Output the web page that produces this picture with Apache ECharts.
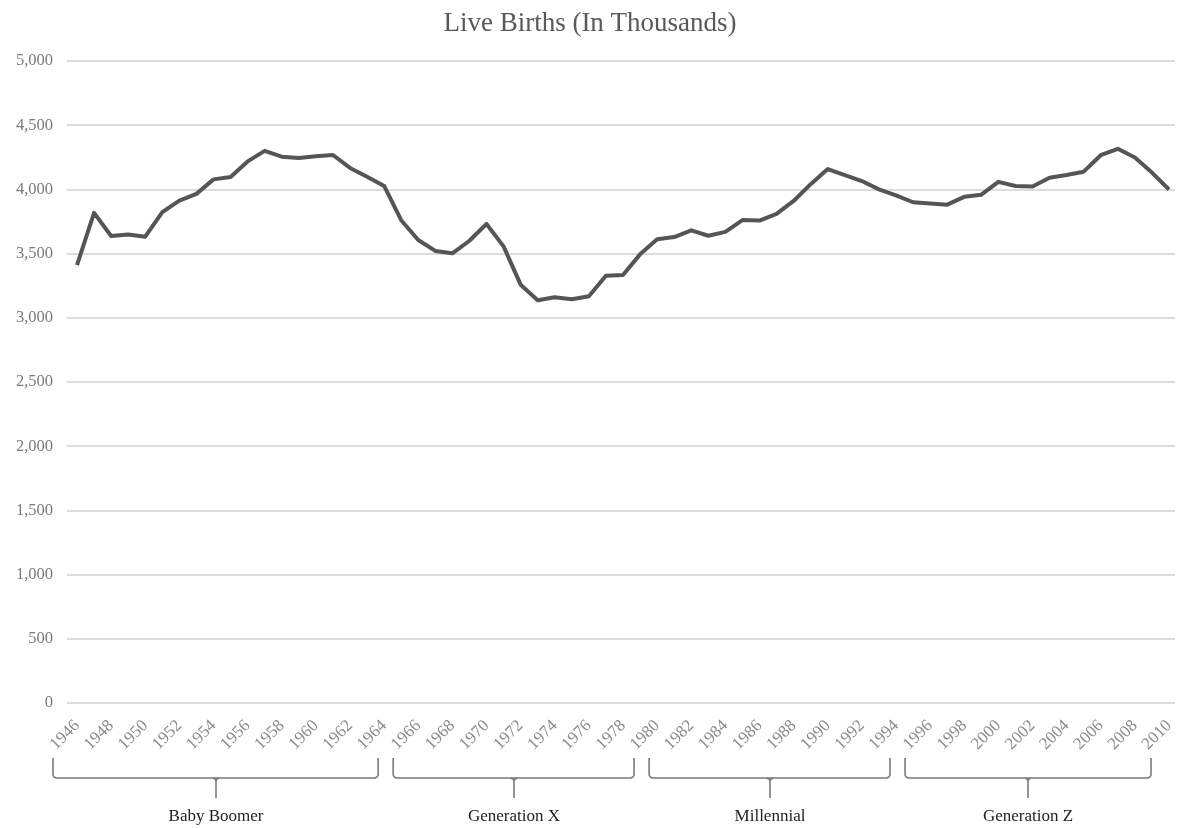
<!DOCTYPE html>
<html>
<head>
<meta charset="utf-8">
<title>Live Births (In Thousands)</title>
<script src="https://cdn.jsdelivr.net/npm/echarts@6/dist/echarts.min.js"></script>
<style>
  html, body { margin: 0; padding: 0; background: #fff; }
  #chart { width: 1180px; height: 828px; }
</style>
</head>
<body>
<div id="chart"></div>
<script>
// US live births by year, in thousands
const years = [];
for (let y = 1946; y <= 2010; y++) years.push(String(y));

const births = [
  3411, 3817, 3637, 3649, 3632, 3823, 3913, 3965, 4078, 4097,
  4218, 4300, 4255, 4245, 4258, 4268, 4167, 4098, 4027, 3760,
  3606, 3521, 3502, 3600, 3731, 3556, 3258, 3137, 3160, 3144,
  3168, 3327, 3333, 3494, 3612, 3629, 3681, 3639, 3669, 3761,
  3757, 3809, 3910, 4041, 4158, 4111, 4065, 4000, 3953, 3900,
  3891, 3881, 3942, 3959, 4059, 4026, 4022, 4090, 4112, 4138,
  4266, 4316, 4248, 4131, 3999
];

const yTicks = [0, 500, 1000, 1500, 2000, 2500, 3000, 3500, 4000, 4500, 5000];

// Generational cohorts shown as brackets under the year axis
const generationNames = ['Baby Boomer', 'Generation X', 'Millennial', 'Generation Z'];
const generationStart = ['1946', '1965', '1980', '1995'];
const generationEnd   = ['1964', '1979', '1994', '2010'];

const SERIF = '"Liberation Serif", "Times New Roman", serif';
const chart = echarts.init(document.getElementById('chart'));

chart.setOption({
  animation: false,
  backgroundColor: '#ffffff',
  title: {
    text: 'Live Births (In Thousands)',
    left: 'center',
    top: 5,
    textStyle: { fontFamily: SERIF, fontSize: 27, fontWeight: 'normal', color: '#595959' }
  },
  grid: [
    // background grid carrying the value gridlines and labels
    { left: 67, right: 5, top: 61, bottom: 125 },
    // plotting grid for the line
    { left: 77, right: 11, top: 61, bottom: 125 }
  ],
  xAxis: [
    { gridIndex: 0, type: 'category', data: years, show: false },
    {
      gridIndex: 1,
      type: 'category',
      data: years,
      boundaryGap: false,
      axisLine: { show: false },
      axisTick: { show: false },
      axisLabel: {
        interval: 1,
        rotate: 45,
        margin: 20,
        fontFamily: SERIF,
        fontSize: 17,
        color: '#8a8a8a'
      }
    }
  ],
  yAxis: [
    {
      gridIndex: 0,
      type: 'value',
      min: yTicks[0],
      max: yTicks[yTicks.length - 1],
      interval: yTicks[1] - yTicks[0],
      axisLine: { show: false },
      axisTick: { show: false },
      splitLine: { lineStyle: { color: '#dcdcdc', width: 2 } },
      axisLabel: {
        margin: 14,
        fontFamily: SERIF,
        fontSize: 16.5,
        color: '#7a7a7a',
        formatter: v => v.toLocaleString('en-US')
      }
    },
    {
      gridIndex: 1,
      type: 'value',
      min: yTicks[0],
      max: yTicks[yTicks.length - 1],
      show: false,
      splitLine: { show: false }
    }
  ],
  series: [{
    type: 'line',
    xAxisIndex: 1,
    yAxisIndex: 1,
    data: births,
    symbol: 'none',
    lineStyle: { color: '#555555', width: 4, join: 'round' }
  }]
});

// Brackets beneath the axis labels, placed from the category positions
function drawBrackets() {
  const top = 758, bar = 778, stem = 798, labelY = 817, r = 3;
  const stroke = { stroke: '#7a7a7a', lineWidth: 1.6, fill: null };
  const elements = [];
  const last = generationNames.length - 1;
  generationNames.forEach((name, i) => {
    const x0 = chart.convertToPixel({ xAxisIndex: 1 }, generationStart[i]);
    const x1 = chart.convertToPixel({ xAxisIndex: 1 }, generationEnd[i]);
    const left = x0 - (i === 0 ? 24 : 8);
    const right = x1 - (i === last ? 18 : 6);
    const mid = Math.round((left + right) / 2);
    elements.push({
      type: 'polyline',
      shape: {
        points: [
          [left, top], [left, bar - r], [left + 1, bar - 1], [left + r, bar],
          [right - r, bar], [right - 1, bar - 1], [right, bar - r], [right, top]
        ]
      },
      style: stroke,
      silent: true
    });
    elements.push({
      type: 'polyline',
      shape: { points: [[mid - r, bar], [mid - 1, bar + 1], [mid, bar + r], [mid, stem]] },
      style: stroke,
      silent: true
    });
    elements.push({
      type: 'polyline',
      shape: { points: [[mid + r, bar], [mid + 1, bar + 1], [mid, bar + r]] },
      style: stroke,
      silent: true
    });
    elements.push({
      type: 'text',
      x: mid,
      y: labelY,
      style: {
        text: name,
        fontFamily: SERIF,
        fontSize: 17,
        fill: '#222222',
        align: 'center',
        verticalAlign: 'middle'
      },
      silent: true
    });
  });
  chart.setOption({ graphic: elements });
}
drawBrackets();
</script>
</body>
</html>
